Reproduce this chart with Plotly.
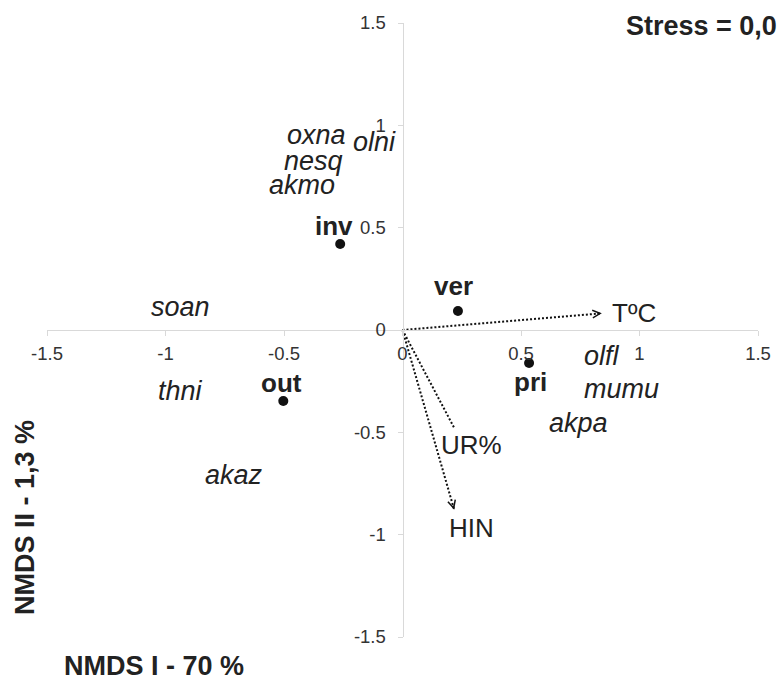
import plotly.graph_objects as go

# ---- data ----
site_names = ["inv", "ver", "pri", "out"]
site_x = [-0.263, 0.234, 0.534, -0.503]
site_y = [0.420, 0.093, -0.161, -0.347]

species_names = ["oxna", "olni", "nesq", "akmo", "soan", "thni", "akaz", "olfl", "mumu", "akpa"]
species_x = [-0.364, -0.118, -0.377, -0.424, -0.936, -0.938, -0.710, 0.842, 0.922, 0.741]
species_y = [0.954, 0.918, 0.827, 0.708, 0.110, -0.300, -0.708, -0.125, -0.290, -0.455]

env_names = ["TºC", "UR%", "HIN"]
env_x = [0.841, 0.218, 0.218]
env_y = [0.0815, -0.478, -0.878]

tick_vals = [-1.5, -1, -0.5, 0, 0.5, 1, 1.5]
tick_text = ["-1.5", "-1", "-0.5", "0", "0.5", "1", "1.5"]

FONT = "Liberation Sans, Arial, Helvetica, sans-serif"
AXC = "#d9d9d9"
TXT = "#222222"

fig = go.Figure()

# environmental vectors (dotted lines)
for name, ex, ey in zip(env_names, env_x, env_y):
    fig.add_trace(go.Scatter(
        x=[0, ex], y=[0, ey], mode="lines",
        line=dict(color="#111111", width=2, dash="2px,2px"),
        hoverinfo="skip", showlegend=False))

# site points
fig.add_trace(go.Scatter(
    x=site_x, y=site_y, mode="markers",
    marker=dict(color="#111111", size=10),
    showlegend=False, hoverinfo="text", text=site_names))

annotations = []

# arrowheads (chevrons) for env vectors + labels
env_label_shift = {"TºC": (8, 0, "left"), "UR%": (17, -17, "center"), "HIN": (17, -18, "center")}
for name, ex, ey in zip(env_names, env_x, env_y):
    annotations.append(dict(
        x=ex, y=ey, ax=ex * 0.97, ay=ey * 0.97, xref="x", yref="y", axref="x", ayref="y",
        text="", showarrow=True, arrowhead=5, arrowsize=1, arrowwidth=1.5,
        arrowcolor="#111111", standoff=0, startstandoff=0))
    dx, dy, anc = env_label_shift[name]
    annotations.append(dict(
        x=ex, y=ey, xref="x", yref="y", text=name, showarrow=False,
        xanchor=anc, yanchor="middle", xshift=dx, yshift=dy,
        font=dict(family=FONT, size=26, color=TXT)))

# site labels
site_shift = {"inv": (-6, 18), "ver": (-4, 25), "pri": (1, -19), "out": (-2, 18)}
for name, sx, sy in zip(site_names, site_x, site_y):
    dx, dy = site_shift[name]
    annotations.append(dict(
        x=sx, y=sy, xref="x", yref="y", text="<b>%s</b>" % name, showarrow=False,
        xanchor="center", yanchor="middle", xshift=dx, yshift=dy,
        font=dict(family=FONT, size=26, color=TXT)))

# species labels
for name, sx, sy in zip(species_names, species_x, species_y):
    annotations.append(dict(
        x=sx, y=sy, xref="x", yref="y", text="<i>%s</i>" % name, showarrow=False,
        xanchor="center", yanchor="middle",
        font=dict(family=FONT, size=27, color=TXT)))

# stress + axis titles
annotations.append(dict(
    x=1.0295, y=0.995, xref="paper", yref="paper", text="<b>Stress = 0,0</b>",
    showarrow=False, xanchor="right", yanchor="middle",
    font=dict(family=FONT, size=27, color=TXT)))
annotations.append(dict(
    x=0.1505, y=-0.047, xref="paper", yref="paper", text="<b>NMDS I - 70 %</b>",
    showarrow=False, xanchor="center", yanchor="middle",
    font=dict(family=FONT, size=27, color=TXT)))
annotations.append(dict(
    x=-0.030, y=0.195, xref="paper", yref="paper", text="<b>NMDS II - 1,3 %</b>",
    showarrow=False, xanchor="center", yanchor="middle", textangle=-90,
    font=dict(family=FONT, size=27, color=TXT)))

axis_common = dict(
    range=[-1.5, 1.5], anchor="free", position=0.5,
    showline=True, linecolor=AXC, linewidth=1,
    ticks="outside", ticklen=5, tickcolor=AXC, tickwidth=1,
    tickvals=tick_vals, ticktext=tick_text,
    showgrid=False, zeroline=False,
    tickfont=dict(family=FONT, size=18.5, color="#333333"))

fig.update_layout(
    width=784, height=678,
    margin=dict(l=47, r=26, t=23, b=41),
    paper_bgcolor="white", plot_bgcolor="white",
    xaxis=dict(**axis_common, ticklabelstandoff=2),
    yaxis=dict(**axis_common, ticklabelstandoff=8),
    annotations=annotations,
    showlegend=False)

fig.write_html("out.html", config={"displayModeBar": False},
               post_script="document.body.style.margin='0px';document.body.style.overflow='hidden';")
